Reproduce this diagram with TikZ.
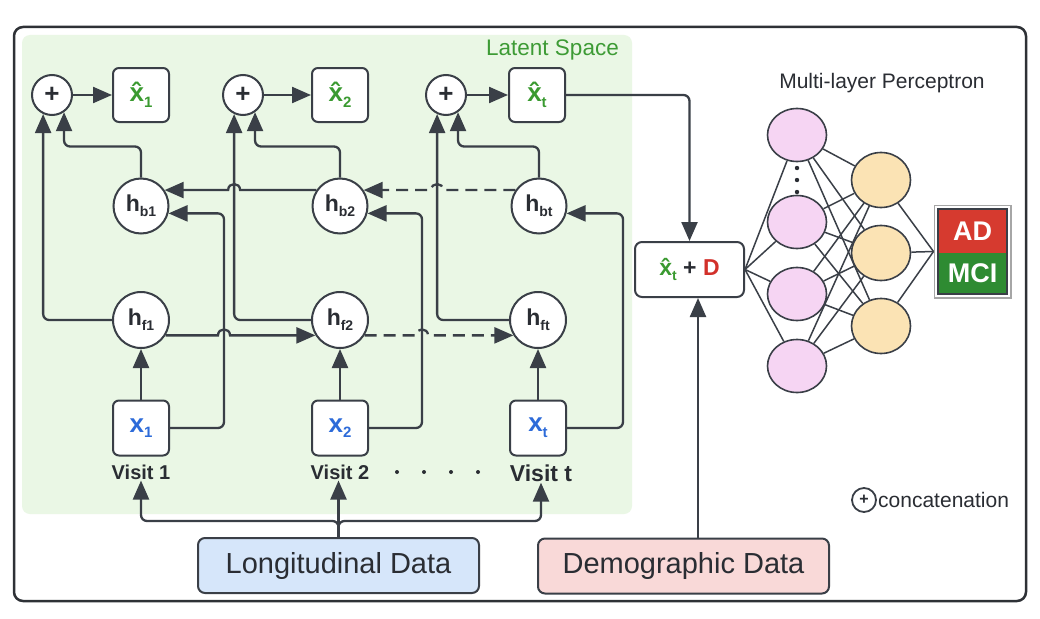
\documentclass[tikz,border=0pt]{standalone}
\usepackage{fontspec}
\setmainfont{Liberation Sans}
\usetikzlibrary{arrows.meta,shapes.geometric,fit,calc}
\definecolor{lc}{HTML}{3A3F47}
\definecolor{framec}{HTML}{2E3136}
\definecolor{latentc}{HTML}{EAF7E5}
\definecolor{lgreen}{HTML}{3D9B35}
\definecolor{xgreen}{HTML}{3A9A30}
\definecolor{xblue}{HTML}{2D6BD9}
\definecolor{txt}{HTML}{2A2D33}
\definecolor{bluef}{HTML}{D6E6FA}
\definecolor{pinkf}{HTML}{F9D9D8}
\definecolor{dred}{HTML}{D2302A}
\definecolor{pinkc}{HTML}{F6D5F3}
\definecolor{orngc}{HTML}{FBE3B4}
\definecolor{adred}{HTML}{D63A2F}
\definecolor{mcigreen}{HTML}{2E8B32}
\newcommand\sbs[2][14pt]{\raisebox{-0.22em}{\fontsize{#1}{#1}\selectfont #2}}
\begin{document}
\begin{tikzpicture}[x=1pt,y=-1pt,
  box/.style={draw=lc, line width=2pt, fill=white, rounded corners=6pt, minimum width=56pt, minimum height=54pt, inner sep=0pt},
  hc/.style={circle, draw=lc, line width=2pt, fill=white, minimum size=55pt, inner sep=0pt, text=txt, font=\fontsize{23pt}{23pt}\selectfont\bfseries},
  plusc/.style={circle, draw=lc, line width=2pt, fill=white, minimum size=40pt, inner sep=0pt, text=txt, font=\fontsize{26pt}{26pt}\selectfont\bfseries},
  arr/.style={draw=lc, line width=2.3pt, rounded corners=6pt, -{Triangle[length=19pt,width=16pt]}},
  darr/.style={arr, dash pattern=on 12pt off 7pt},
  vis/.style={text=txt, inner sep=1pt, font=\fontsize{20pt}{20pt}\selectfont\bfseries},
  pk/.style={ellipse, draw=lc, line width=1.6pt, fill=pinkc, minimum width=59pt, minimum height=53pt, inner sep=0pt},
  og/.style={ellipse, draw=lc, line width=1.6pt, fill=orngc, minimum width=59pt, minimum height=55pt, inner sep=0pt},
  mlp/.style={draw=lc, line width=1.5pt},
  databox/.style={draw=lc, line width=2pt, rounded corners=7pt, minimum height=55pt, text=txt, font=\fontsize{29pt}{29pt}\selectfont}
]
\useasboundingbox (0,0) rectangle (1040,618);
\fill[white] (0,0) rectangle (1040,618);
\draw[draw=framec, line width=2.5pt, rounded corners=9pt] (14,27) rectangle (1026,601);
\fill[latentc, rounded corners=8pt] (22,35) rectangle (632,514);
\node[anchor=east, text=lgreen, inner sep=0pt, font=\fontsize{22.5pt}{22.5pt}\selectfont] (ls) at (619,50) {Latent Space};

% concatenation circles and outputs
\node[plusc] (p1) at (52,95) {+};
\node[plusc] (p2) at (243,95) {+};
\node[plusc] (p3) at (446,95) {+};
\node[box, text=xgreen, font=\fontsize{26pt}{26pt}\selectfont\bfseries] (xh1) at (141,95) {\^{x}\sbs[15pt]{1}};
\node[box, text=xgreen, font=\fontsize{26pt}{26pt}\selectfont\bfseries] (xh2) at (340,95) {\^{x}\sbs[15pt]{2}};
\node[box, text=xgreen, font=\fontsize{26pt}{26pt}\selectfont\bfseries] (xht) at (537,95) {\^{x}\sbs[15pt]{t}};

% hidden states
\node[hc] (hb1) at (141,206) {h\sbs{b1}};
\node[hc] (hb2) at (340,206) {h\sbs{b2}};
\node[hc] (hbt) at (539,206) {h\sbs{bt}};
\node[hc, minimum size=56pt] (hf1) at (141,320) {h\sbs{f1}};
\node[hc, minimum size=56pt] (hf2) at (340,320) {h\sbs{f2}};
\node[hc, minimum size=56pt] (hft) at (538,320) {h\sbs{ft}};

% inputs
\node[box, minimum height=55pt, text=xblue, font=\fontsize{26pt}{26pt}\selectfont\bfseries] (x1) at (141,428) {x\sbs[15pt]{1}};
\node[box, minimum height=55pt, text=xblue, font=\fontsize{26pt}{26pt}\selectfont\bfseries] (x2) at (340,428) {x\sbs[15pt]{2}};
\node[box, minimum height=55pt, text=xblue, font=\fontsize{26pt}{26pt}\selectfont\bfseries] (xt) at (538,428) {x\sbs[15pt]{t}};

\node[vis] (v1) at (141,472) {Visit 1};
\node[vis] (v2) at (340,472) {Visit 2};
\node[vis, font=\fontsize{23pt}{23pt}\selectfont\bfseries] (vt) at (541,473) {Visit t};
\foreach \dx in {397,424,451,478} \fill[txt] (\dx,472) circle[radius=2pt];

\coordinate (c1) at (224,0);
\coordinate (c2) at (422,0);
\coordinate (c3) at (623,0);

% plus -> outputs
\draw[arr] (p1.east) -- (xh1.west);
\draw[arr] (p2.east) -- (xh2.west);
\draw[arr] (p3.east) -- (xht.west);

% forward states -> plus
\draw[arr] (hf1.west) -| (p1.245);
\draw[arr] (hf2.west) -| (p2.245);
\draw[arr] (hft.west) -| (p3.245);
% backward states -> plus
\draw[arr] (hb1.north) -- ++(0,-31) -| (p1.305);
\draw[arr] (hb2.north) -- ++(0,-31) -| (p2.305);
\draw[arr] (hbt.north) -- ++(0,-31) -| (p3.305);

% inputs -> forward
\draw[arr] (x1.north) -- (hf1.south);
\draw[arr] (x2.north) -- (hf2.south);
\draw[arr] (xt.north) -- (hft.south);
% inputs -> backward
\draw[arr] (x1.east) -| (c1 |- hb1.-15) -- (hb1.-15);
\draw[arr] (x2.east) -| (c2 |- hb2.-15) -- (hb2.-15);
\draw[arr] (xt.east) -| (c3 |- hbt.-15) -- (hbt.-15);

% backward chain
\draw[arr, sharp corners] (hb2.146) -- ([xshift=6pt]hb2.146 -| p2.245) .. controls +(0,-8) and +(0,-8) .. ([xshift=-6pt]hb2.146 -| p2.245) -- (hb1.34);
\draw[darr, sharp corners] (hbt.146) -- ([xshift=6pt]hbt.146 -| p3.245) .. controls +(0,-8) and +(0,-8) .. ([xshift=-6pt]hbt.146 -| p3.245) -- (hb2.34);
% forward chain
\draw[arr, sharp corners] (hf1.-32) -- ([xshift=-6pt]hf1.-32 -| c1) .. controls +(0,-8) and +(0,-8) .. ([xshift=6pt]hf1.-32 -| c1) -- (hf2.212);
\draw[darr, sharp corners] (hf2.-32) -- ([xshift=-6pt]hf2.-32 -| c2) .. controls +(0,-8) and +(0,-8) .. ([xshift=6pt]hf2.-32 -| c2) -- (hft.212);

% data boxes
\node[databox, fill=bluef, minimum width=281pt] (long) at (338.5,565.5) {Longitudinal Data};
\node[databox, fill=pinkf, minimum width=291pt] (demo) at (683.5,566) {Demographic Data};
\draw[arr] (long.north) -- (long.north |- v2.south);
\draw[arr] (long.north) -- ++(0,-16) -| (v1.south);
\draw[arr] (long.north) -- ++(0,-16) -| (vt.south);

% combined input
\node[draw=lc, line width=2pt, fill=white, rounded corners=7pt, minimum width=109pt, minimum height=55pt, inner sep=0pt, font=\fontsize{23pt}{23pt}\selectfont\bfseries] (sum) at (689.5,269.5) {\textcolor{xgreen}{\^{x}\sbs{t}} \textcolor{txt}{+} \textcolor{dred}{D}};
\draw[arr] (xht.east) -| (sum.north);
\draw[arr] ([xshift=8.5pt]sum.south |- demo.north) -- ([xshift=8.5pt]sum.south);

% MLP
\node[text=txt, font=\fontsize{21pt}{21pt}\selectfont] (mlpt) at (882,83) {Multi-layer Perceptron};
\node[pk] (a1) at (797,135) {};
\node[pk] (a2) at (797,222) {};
\node[pk] (a3) at (797,294) {};
\node[pk] (a4) at (797,366) {};
\foreach \yy in {168,180,192} \fill[txt] (797,\yy) circle[radius=2.2pt];
\node[og] (b1) at (881,180) {};
\node[og] (b2) at (881,253) {};
\node[og] (b3) at (881,326) {};
\node[fill=adred, minimum width=69pt, minimum height=44pt, inner sep=0pt, text=white, font=\fontsize{27pt}{27pt}\selectfont\bfseries] (ad) at (972.5,231) {AD};
\node[fill=mcigreen, minimum width=69pt, minimum height=41pt, inner sep=0pt, text=white, font=\fontsize{27pt}{27pt}\selectfont\bfseries] (mci) at (972.5,273.5) {MCI};
\node[fit=(ad)(mci), inner sep=0pt, draw=lc, line width=1.8pt] (outin) {};
\node[fit=(outin), inner sep=2.5pt, draw=gray!70, line width=1.8pt] (outbox) {};

\foreach \a in {a1,a2,a3,a4} \draw[mlp] (sum.east) -- (\a);
\foreach \a in {a1,a2,a3,a4} {\foreach \b in {b1,b2,b3} \draw[mlp] (\a) -- (\b);}
\foreach \b in {b1,b2,b3} \draw[mlp] (\b) -- (outbox.west);

% legend
\node[plusc, minimum size=24pt, line width=1.8pt, font=\fontsize{16pt}{16pt}\selectfont\bfseries] (lg) at (864,500) {+};
\node[anchor=west, inner sep=0pt, text=txt, font=\fontsize{21pt}{21pt}\selectfont] (lgt) at (878,500) {concatenation};
\end{tikzpicture}
\end{document}
